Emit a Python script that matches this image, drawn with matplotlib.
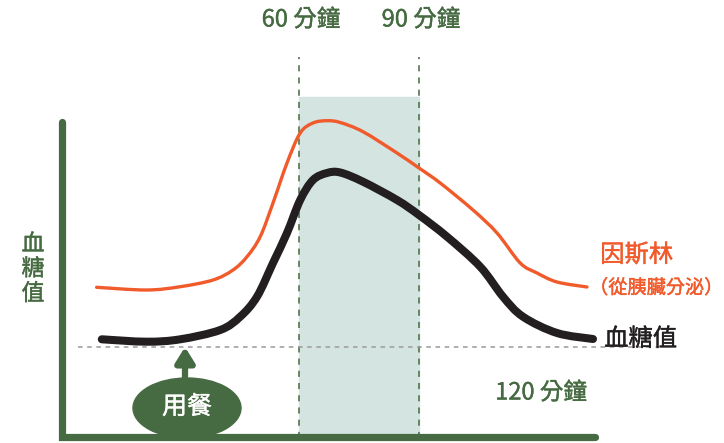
import numpy as np
import matplotlib.pyplot as plt
import matplotlib.patheffects as pe
from matplotlib.patches import Ellipse, Rectangle, PathPatch
from matplotlib.path import Path

plt.rcParams['font.family'] = ['Noto Sans CJK TC', 'DejaVu Sans']

# time in minutes after the meal, levels in arbitrary units
t_insulin = [9.4, 21.9, 30.3, 38.5, 43.5, 47.0, 50.3, 53.5, 57.0, 60.3, 63.5, 67.0,
             70.3, 76.0, 84.5, 90.0, 95.3, 103.5, 109.5, 115.3, 119.5, 124.5, 132.0]
insulin = [150.7, 148.0, 151.3, 158.0, 168.0, 181.3, 201.3, 235.0, 275.0, 305.0, 315.0, 317.3,
           315.5, 306.3, 285.0, 270.0, 255.0, 228.0, 205.0, 175.0, 165.0, 156.0, 151.0]

t_glucose = [10.7, 21.9, 30.3, 40.3, 45.3, 49.5, 53.5, 57.0, 60.3, 63.5, 67.0,
             70.3, 76.0, 84.5, 90.0, 97.0, 105.3, 111.0, 116.0, 124.5, 133.5]
glucose = [98.7, 96.3, 98.7, 108.0, 121.3, 141.3, 175.0, 205.0, 238.0, 258.0, 265.0,
           265.5, 256.3, 238.0, 223.0, 201.3, 171.3, 141.3, 121.3, 105.0, 99.0]

marks = [60, 90]
mark_labels = ['60 分鐘', '90 分鐘']
baseline = 91

green = '#466a41'
orange = '#f15a2b'
black = '#231f20'


def smooth_path(x, y):
    # catmull-rom through the points, written as cubic bezier segments
    p = np.column_stack([x, y])
    p = np.vstack([p[0], p, p[-1]])
    verts = [p[1]]
    codes = [Path.MOVETO]
    for i in range(1, len(p) - 2):
        c1 = p[i] + (p[i + 1] - p[i - 1]) / 6
        c2 = p[i + 1] - (p[i + 2] - p[i]) / 6
        verts += [c1, c2, p[i + 1]]
        codes += [Path.CURVE4] * 3
    return Path(verts, codes)


def label(x, y, s, color, size, **kw):
    # a thin stroke of the same colour makes the text a bit heavier, like the original
    t = ax.text(x, y, s, color=color, fontsize=size, va='center', **kw)
    t.set_path_effects([pe.withStroke(linewidth=0.3, foreground=color)])
    return t


fig = plt.figure(figsize=(7.24, 4.43), dpi=100)
ax = fig.add_axes([0, 0, 1, 1])
ax.set_xlim(-14.75, 166.25)
ax.set_ylim(-5, 438)
ax.axis('off')

# shaded window between 60 and 90 min
ax.add_patch(Rectangle((marks[0], 0), marks[1] - marks[0], 341, color='#d3e4e1', zorder=1))
for m, lab in zip(marks, mark_labels):
    ax.plot([m, m], [0, 381], ls=(0, (4, 4)), color=green, lw=1.1, zorder=2)
    label(m + 0.5, 418, lab, green, 17, ha='center')

# fasting baseline
ax.plot([4.75, 150], [baseline, baseline], ls=(0, (3, 3)), color='#9a9a9a', lw=1.1, zorder=2)

ax.add_patch(PathPatch(smooth_path(t_insulin, insulin), fill=False, edgecolor=orange, lw=2.4,
                       capstyle='round', joinstyle='round', zorder=3))
ax.add_patch(PathPatch(smooth_path(t_glucose, glucose), fill=False, edgecolor=black, lw=5.8,
                       capstyle='round', joinstyle='round', zorder=4))

# axes
ax.plot([0.75, 0.75, 134], [316, 1, 1], color=green, lw=5.2, solid_capstyle='round',
        solid_joinstyle='miter', zorder=6)

label(-6.5, 169, '血\n糖\n值', green, 16.5, ha='center', linespacing=1.1)
label(135.3, 183, '因斯林', orange, 17.5, ha='left')
label(166.0, 150, '（從胰臟分泌）', orange, 13.8, ha='right')
label(136.3, 99, '血糖值', black, 17.5, ha='left', zorder=5)
label(120.5, 45, '120 分鐘', green, 17, ha='center')

# meal marker
ax.add_patch(Ellipse((32.0, 30), 27, 60, color=green, zorder=5))
ax.annotate('', xy=(31.5, 91), xytext=(31.5, 58),
            arrowprops=dict(arrowstyle='-|>,head_length=0.45,head_width=0.28', color=green,
                            lw=4.5, mutation_scale=20, shrinkA=0, shrinkB=0), zorder=5)
label(32.0, 31, '用餐', 'white', 18, ha='center', zorder=6)

fig.savefig('out.png', dpi=100)
